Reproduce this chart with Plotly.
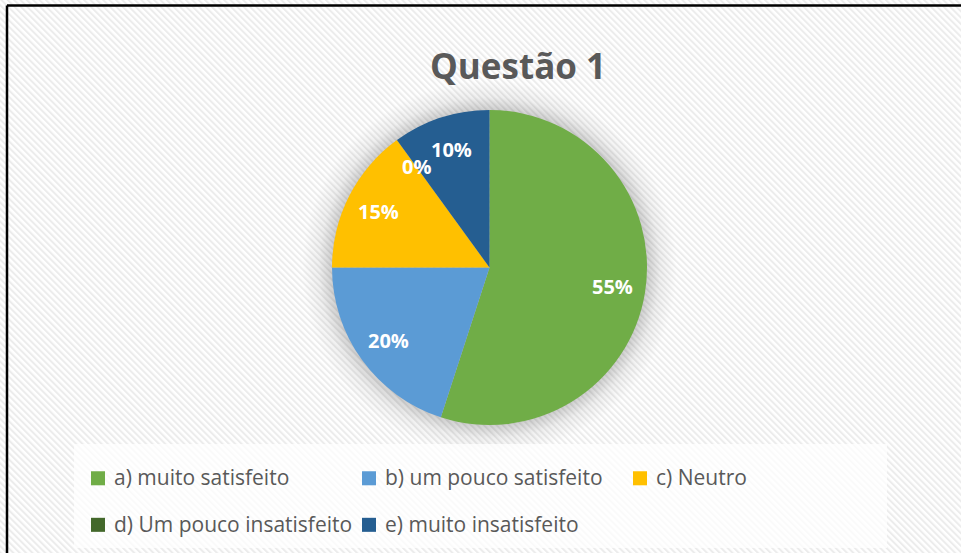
import math
import base64
import plotly.graph_objects as go

# ---- data ----
labels = ["a) muito satisfeito", "b) um pouco satisfeito", "c) Neutro",
          "d) Um pouco insatisfeito", "e) muito insatisfeito"]
values = [55, 20, 15, 0, 10]
colors = ["#70AD47", "#5B9BD5", "#FFC000", "#43682B", "#255E91"]
title_text = "Questão 1"

W, H = 961, 553
FONT = "'Open Sans', Lato, sans-serif"

# pie geometry (pixels)
cx, cy, r = 489.5, 267.5, 157.5

# background: diagonal hatch + soft shadow around the pie
svg = f'''<svg xmlns="http://www.w3.org/2000/svg" width="{W}" height="{H}" viewBox="0 0 {W} {H}">
<defs>
<pattern id="p" width="4.5" height="4.5" patternUnits="userSpaceOnUse" patternTransform="rotate(-45)">
<rect width="4.5" height="4.5" fill="#ffffff"/>
<rect width="2" height="4.5" fill="#ececec"/>
</pattern>
<radialGradient id="g" cx="{cx}" cy="{cy}" r="{r+30}" gradientUnits="userSpaceOnUse">
<stop offset="0.82" stop-color="#000" stop-opacity="0.22"/>
<stop offset="0.91" stop-color="#000" stop-opacity="0.06"/>
<stop offset="1" stop-color="#000" stop-opacity="0"/>
</radialGradient>
</defs>
<rect width="{W}" height="{H}" fill="url(#p)"/>
<circle cx="{cx}" cy="{cy}" r="{r+30}" fill="url(#g)"/>
</svg>'''
bg_src = "data:image/svg+xml;base64," + base64.b64encode(svg.encode()).decode()

fig = go.Figure()
fig.add_trace(go.Pie(
    labels=[f'<span style="font-size:21px">{l}</span>' for l in labels],
    values=values, sort=False, direction="clockwise", rotation=0,
    marker=dict(colors=colors, line=dict(width=0)),
    textinfo="none", hoverinfo="percent",
    domain=dict(x=[(cx - r) / W, (cx + r) / W], y=[1 - (cy + r) / H, 1 - (cy - r) / H]),
    showlegend=True,
))

# percent labels placed along each slice's mid-angle
total = sum(values)
cum = 0
annotations = []
for v in values:
    mid = (cum + v / 2) / total * 2 * math.pi
    cum += v
    px = cx + 0.79 * r * math.sin(mid)
    py = cy - 0.79 * r * math.cos(mid)
    annotations.append(dict(
        x=px / W, y=1 - py / H, xref="paper", yref="paper",
        text=f"{round(v / total * 100)}%", showarrow=False,
        font=dict(family=FONT, size=20, color="white", weight="bold"),
        xanchor="center", yanchor="middle"))

annotations.append(dict(
    x=518 / W, y=1 - 65 / H, xref="paper", yref="paper", text=title_text,
    showarrow=False, font=dict(family=FONT, size=35, color="#595959", weight="bold"),
    xanchor="center", yanchor="middle"))

fig.update_layout(
    width=W, height=H,
    margin=dict(l=0, r=0, t=0, b=0),
    paper_bgcolor="white", plot_bgcolor="white",
    images=[dict(source=bg_src, xref="paper", yref="paper", x=0, y=1,
                 sizex=1, sizey=1, sizing="stretch", layer="below",
                 xanchor="left", yanchor="top")],
    annotations=annotations,
    legend=dict(
        orientation="h", x=74 / W, y=1 - 444 / H, xanchor="left", yanchor="top",
        entrywidth=226, entrywidthmode="pixels",
        bgcolor="rgba(255,255,255,0.75)", borderwidth=0,
        font=dict(family=FONT, size=33.5, color="#595959"),
        traceorder="normal", itemclick=False, itemdoubleclick=False,
    ),
    shapes=[
        dict(type="line", xref="paper", yref="paper", x0=7 / W, x1=1, y0=1 - 5.5 / H, y1=1 - 5.5 / H,
             line=dict(color="black", width=2.5)),
        dict(type="line", xref="paper", yref="paper", x0=7 / W, x1=7 / W, y0=0, y1=1 - 5.5 / H,
             line=dict(color="black", width=2.5)),
    ],
)

post = (
    "document.body.style.margin='0';document.body.style.overflow='hidden';"
    "document.querySelectorAll('.legendpoints').forEach(function(g){"
    "g.setAttribute('transform','translate(0.6,6) scale(1.17)');});"
)
fig.write_html("out.html", config={"displayModeBar": False}, post_script=post)
